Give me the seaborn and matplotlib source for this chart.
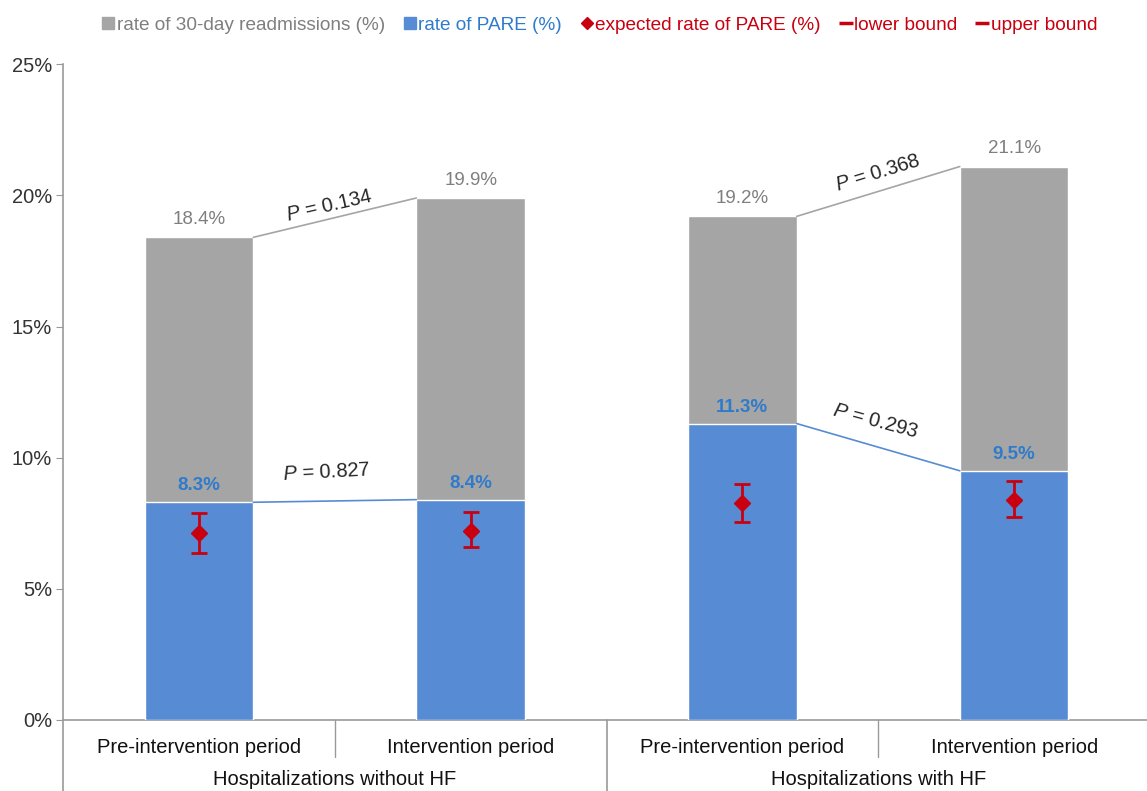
import matplotlib
matplotlib.use('Agg')
import matplotlib.pyplot as plt
from matplotlib.lines import Line2D
import seaborn as sns
import pandas as pd

# values
periods = ['Pre-intervention period', 'Intervention period',
           'Pre-intervention period', 'Intervention period']
groups = ['Hospitalizations without HF', 'Hospitalizations with HF']
readmit = [18.4, 19.9, 19.2, 21.1]
pare = [8.3, 8.4, 11.3, 9.5]
expected = [7.13, 7.2, 8.27, 8.38]
lower = [6.36, 6.59, 7.55, 7.74]
upper = [7.89, 7.93, 9.0, 9.1]
p_top = ['0.134', '0.368']
p_pare = ['0.827', '0.293']

GRAY = '#A5A5A5'
BLUE = '#578CD4'
RED = '#C8000F'
GRAYTXT = '#7F7F7F'
BLUETXT = '#2F7BCB'

sns.set_style('white')
plt.rcParams['font.family'] = ['Liberation Sans', 'DejaVu Sans']
plt.rcParams['mathtext.fontset'] = 'custom'
plt.rcParams['mathtext.it'] = 'Liberation Sans:italic'
plt.rcParams['mathtext.rm'] = 'Liberation Sans'

df = pd.DataFrame({'slot': [0, 1, 2, 3], 'readmit': readmit, 'pare': pare})

fig = plt.figure(figsize=(11.47, 7.91), dpi=100)
ax = fig.add_axes([0.055, 0.0898, 0.95, 0.829])

sns.barplot(data=df, x='slot', y='readmit', color=GRAY, width=0.4,
            saturation=1, ax=ax, zorder=2)
sns.barplot(data=df, x='slot', y='pare', color=BLUE, width=0.4,
            saturation=1, ax=ax, zorder=3)

yerr = [[e - l for e, l in zip(expected, lower)],
        [u - e for e, u in zip(expected, upper)]]
ax.errorbar(df['slot'], expected, yerr=yerr, fmt='D', color=RED,
            markersize=8, capsize=6, elinewidth=2, capthick=2, zorder=5)

# value labels
for i in range(4):
    ax.text(i, readmit[i] + 0.35, f'{readmit[i]}%', ha='center', va='bottom',
            color=GRAYTXT, fontsize=13.5)
    ax.text(i, pare[i] + 0.3, f'{pare[i]}%', ha='center', va='bottom',
            color=BLUETXT, fontsize=13.5, fontweight='bold', zorder=6)

# connectors and P values
hw = 0.2
for k in range(2):
    a, b = 2 * k, 2 * k + 1
    ax.plot([a + hw, b - hw], [readmit[a], readmit[b]], color=GRAY, lw=1.2, zorder=4)
    ax.plot([a + hw, b - hw], [pare[a], pare[b]], color=BLUE, lw=1.2, zorder=4)

ax.text(0.48, 19.6, f'$P$ = {p_top[0]}', fontsize=14.5, rotation=13,
        ha='center', va='center')
ax.text(0.47, 9.45, f'$P$ = {p_pare[0]}', fontsize=14.5, rotation=3,
        ha='center', va='center')
ax.text(2.5, 20.85, f'$P$ = {p_top[1]}', fontsize=14.5, rotation=17,
        ha='center', va='center')
ax.text(2.49, 11.4, f'$P$ = {p_pare[1]}', fontsize=14.5, rotation=-15,
        ha='center', va='center')

ax.set_xlim(-0.5, 3.51)
ax.set_ylim(0, 25)
ax.set_yticks([0, 5, 10, 15, 20, 25])
ax.set_yticklabels([f'{v}%' for v in [0, 5, 10, 15, 20, 25]], fontsize=14.5,
                   color='#333333')
ax.tick_params(axis='y', length=5, color='#999999', left=True, pad=3)
ax.set_xticks([])
ax.set_xlabel('')
ax.set_ylabel('')
for s in ['top', 'right']:
    ax.spines[s].set_visible(False)
for s in ['left', 'bottom']:
    ax.spines[s].set_color('#9A9A9A')
    ax.spines[s].set_linewidth(1.2)

# two-level category axis
tr = ax.get_xaxis_transform()
for i, lab in enumerate(periods):
    ax.text(i, -0.042, lab, transform=tr, ha='center', va='center',
            fontsize=14.5, color='#111111')
for j, g in enumerate(groups):
    ax.text(2 * j + 0.5, -0.1055, g, transform=tr, ha='center', va='bottom',
            fontsize=14.5, color='#111111')
for xb in [0.5, 2.5]:
    ax.plot([xb, xb], [0, -0.057], transform=tr, color='#9A9A9A', lw=1,
            clip_on=False)
for xb in [-0.5, 1.5]:
    ax.plot([xb, xb], [0, -0.12], transform=tr, color='#9A9A9A', lw=1.2,
            clip_on=False)

handles = [
    Line2D([], [], marker='s', ls='none', color=GRAY, markersize=8),
    Line2D([], [], marker='s', ls='none', color=BLUE, markersize=8),
    Line2D([], [], marker='D', ls='none', color=RED, markersize=6),
    Line2D([], [], marker='_', ls='none', color=RED, markersize=10, mew=2.5),
    Line2D([], [], marker='_', ls='none', color=RED, markersize=10, mew=2.5),
]
labels = ['rate of 30-day readmissions (%)', 'rate of PARE (%)',
          'expected rate of PARE (%)', 'lower bound', 'upper bound']
leg = fig.legend(handles, labels, loc='center', bbox_to_anchor=(0.523, 0.968),
                 ncol=5, frameon=False, fontsize=13.7, handlelength=0.6,
                 handletextpad=0.15, columnspacing=1.0)
for t, c in zip(leg.get_texts(), [GRAYTXT, BLUETXT, RED, RED, RED]):
    t.set_color(c)

fig.savefig('out.png', dpi=100)
